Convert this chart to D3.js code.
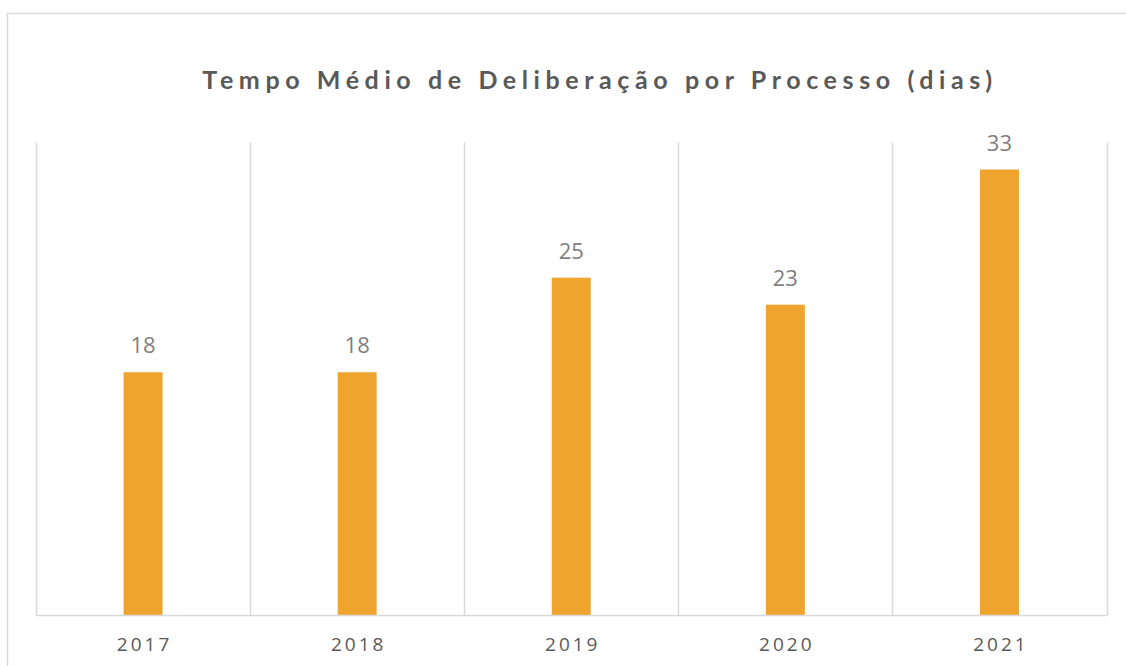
<!DOCTYPE html>
<html>
<head>
<meta charset="utf-8">
<script src="https://cdn.jsdelivr.net/npm/d3@7"></script>
<style>
  html, body { margin: 0; padding: 0; background: #fff; }
  svg { display: block; }
</style>
</head>
<body>
<svg id="chart" width="1126" height="666"></svg>
<script>
const years = ['2017', '2018', '2019', '2020', '2021']
const days = [18, 18, 25, 23, 33]
const yMax = 35
const title = 'Tempo Médio de Deliberação por Processo (dias)'

const svg = d3.select('#chart')
const W = 1126, H = 666
const plot = { left: 36, right: 1106.5, top: 142.5, bottom: 615.5 }

// outer chart frame
svg.append('rect')
  .attr('x', 7.5).attr('y', 13.5)
  .attr('width', W + 10).attr('height', H + 10)
  .attr('fill', '#fff')
  .attr('stroke', '#d9d9d9')
  .attr('stroke-width', 1.5)

const cell = d3.scaleBand()
  .domain(years)
  .range([plot.left, plot.right])
  .padding(0)

const x = d3.scaleBand()
  .domain(years)
  .range([plot.left, plot.right])
  .paddingInner(0.818)
  .paddingOuter(0.409)

const y = d3.scaleLinear()
  .domain([0, yMax])
  .range([plot.bottom, plot.top])

// vertical category separators
const edges = years.map(d => cell(d)).concat([plot.right])
svg.append('g')
  .selectAll('line')
  .data(edges)
  .join('line')
    .attr('x1', d => Math.round(d) + 0.5)
    .attr('x2', d => Math.round(d) + 0.5)
    .attr('y1', y(yMax))
    .attr('y2', y(0))
    .attr('stroke', '#d9d9d9')
    .attr('stroke-width', 1.5)

// bars
svg.append('g')
  .selectAll('rect')
  .data(days)
  .join('rect')
    .attr('x', (d, i) => x(years[i]))
    .attr('y', d => y(d))
    .attr('width', x.bandwidth())
    .attr('height', d => y(0) - y(d))
    .attr('fill', '#f0a430')

// baseline
svg.append('line')
  .attr('x1', plot.left).attr('x2', plot.right + 0.5)
  .attr('y1', y(0)).attr('y2', y(0))
  .attr('stroke', '#d9d9d9')
  .attr('stroke-width', 1.5)

// value labels
svg.append('g')
  .selectAll('text')
  .data(days)
  .join('text')
    .attr('x', (d, i) => x(years[i]) + x.bandwidth() / 2)
    .attr('y', d => y(d) - 19)
    .attr('text-anchor', 'middle')
    .attr('font-family', 'Open Sans, sans-serif')
    .attr('font-size', 22)
    .attr('fill', '#7f7f7f')
    .text(d => d)

// category axis labels
svg.append('g')
  .selectAll('text')
  .data(years)
  .join('text')
    .attr('x', d => cell(d) + cell.bandwidth() / 2 + 1.5)
    .attr('y', 651)
    .attr('text-anchor', 'middle')
    .attr('font-family', 'Open Sans, sans-serif')
    .attr('font-size', 19)
    .attr('letter-spacing', 3)
    .attr('fill', '#595959')
    .text(d => d)

// title
svg.append('text')
  .attr('x', 600)
  .attr('y', 89)
  .attr('text-anchor', 'middle')
  .attr('font-family', 'Lato, sans-serif')
  .attr('font-weight', 'bold')
  .attr('font-size', 25)
  .attr('letter-spacing', 5.6)
  .attr('fill', '#595959')
  .text(title)
</script>
</body>
</html>
